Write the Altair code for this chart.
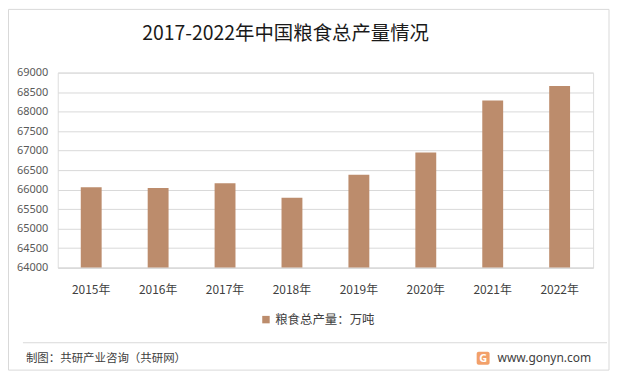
import altair as alt
import pandas as pd

years = ["2015年", "2016年", "2017年", "2018年", "2019年", "2020年", "2021年", "2022年"]
output = [66060, 66044, 66161, 65789, 66384, 66949, 68285, 68653]
series_name = "粮食总产量：万吨"
title_text = "2017-2022年中国粮食总产量情况"
source_text = "制图：共研产业咨询（共研网）"
site_text = "www.gonyn.com"
y_ticks = list(range(64000, 69001, 500))
y_min, y_max = 64000, 69000

BAR = "#BC8C6C"
FONT = "Noto Sans CJK SC"

df = pd.DataFrame({"年份": years, "产量": output, "系列": [series_name] * len(years)})

W, H = 538, 196

bars = alt.Chart(df).mark_bar(color=BAR).encode(
    x=alt.X("年份:N", sort=years, title=None,
            scale=alt.Scale(paddingInner=0.688, paddingOuter=0.344),
            axis=alt.Axis(labelAngle=0, labelFontSize=12, labelColor="#404040", labelFont=FONT,
                          labelPadding=17, ticks=False, domainColor="#d9d9d9", domainWidth=1)),
    y=alt.Y("产量:Q", title=None,
            scale=alt.Scale(domain=[y_min, y_max], nice=False, zero=False),
            axis=alt.Axis(values=y_ticks, format="d", labelFontSize=11, labelColor="#595959",
                          labelFont="Noto Sans", labelPadding=10, ticks=False, domain=False,
                          gridColor="#d9d9d9", gridWidth=1)),
    y2=alt.datum(y_min),
    color=alt.Color("系列:N", scale=alt.Scale(range=[BAR]),
                    legend=alt.Legend(orient="none", legendX=203, legendY=242, title=None,
                                      symbolType="square", symbolSize=56, symbolStrokeWidth=0,
                                      labelFontSize=12.5, labelFont=FONT, labelColor="#404040",
                                      padding=0, labelOffset=3)),
)

def text_layer(txt, x, y, size, color="#404040", align="left", weight="normal", font=FONT):
    return alt.Chart(pd.DataFrame({"t": [txt]})).mark_text(
        align=align, baseline="middle", fontSize=size, color=color, font=font, fontWeight=weight
    ).encode(text="t:N", x=alt.value(x), y=alt.value(y))

title = text_layer(title_text, 229, -39, 19.5, color="#1a1a1a", align="center")
src = text_layer(source_text, -32, 288, 11.5)
site = text_layer(site_text, 536, 287, 12, align="right", font="Noto Sans")

border = alt.Chart(pd.DataFrame({"a": [0]})).mark_rect(
    fill=None, stroke="#d9d9d9", strokeWidth=1
).encode(x=alt.value(-49.5), x2=alt.value(554), y=alt.value(-63.5), y2=alt.value(299))

sep = alt.Chart(pd.DataFrame({"a": [0]})).mark_rule(color="#d9d9d9", strokeWidth=1).encode(
    x=alt.value(-35), x2=alt.value(552), y=alt.value(271.5)
)

logo = alt.Chart(pd.DataFrame({"a": [0]})).mark_rect(
    fill="#F2A06A", cornerRadius=2
).encode(x=alt.value(421), x2=alt.value(434), y=alt.value(280.5), y2=alt.value(293.5))
logo_g = text_layer("G", 427.5, 287.5, 11, color="white", align="center", weight="bold", font="Noto Sans")

chart = alt.layer(border, bars, title, sep, src, logo, logo_g, site).properties(
    width=W, height=H,
    autosize=alt.AutoSizeParams(type="none"),
    padding={"left": 50, "top": 64, "right": 18, "bottom": 105},
).configure_view(stroke=None).configure(background="white")

chart.save("out.html", embed_options={"renderer": "svg", "actions": False})
